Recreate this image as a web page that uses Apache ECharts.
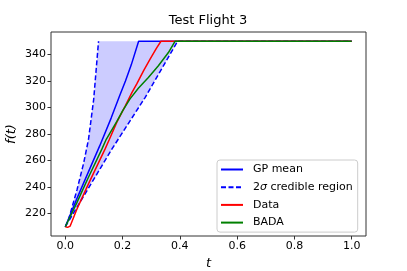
<!DOCTYPE html>
<html><head><meta charset="utf-8">
<script src="https://cdn.jsdelivr.net/npm/echarts@6/dist/echarts.min.js"></script>
<style>html,body{margin:0;padding:0;background:#fff}#c{width:407px;height:271px}</style>
</head><body><div id="c"></div>
<script>
// GP mean
const tGP = [0, 0.04, 0.08, 0.12, 0.16, 0.19, 0.21, 0.23, 0.256, 1.0];
const yGP = [210, 231, 251, 271, 292, 309, 320, 332, 350, 350];
// 2-sigma credible region: upper bound
const tUp = [0, 0.012, 0.041, 0.064, 0.081, 0.099, 0.116];
const yUp = [210, 216, 238, 258, 276, 306, 350];
// 2-sigma credible region: lower bound
const tLo = [0, 0.163, 0.279, 0.392, 1.0];
const yLo = [210, 268.75, 307.7, 350, 350];
// Data
const tData = [0, 0.008, 0.017, 0.04, 0.08, 0.139, 0.154, 0.18, 0.209, 0.232, 0.25, 0.273, 0.296, 0.319, 0.334, 1.0];
const yData = [210, 209.5, 210.5, 223, 242, 268.75, 276, 289, 301, 311, 318, 327.7, 336.5, 345, 350, 350];
// BADA
const tBada = [0, 0.04, 0.08, 0.128, 0.143, 0.18, 0.2, 0.226, 0.255, 0.29, 0.325, 0.36, 0.383, 1.0];
const yBada = [210, 228, 247, 268.75, 276, 289.5, 297.5, 306.5, 314.5, 322.7, 331.5, 341.5, 350, 350];
// Ticks
const xTicks = [0, 0.2, 0.4, 0.6, 0.8, 1.0];
const yTicks = [220, 240, 260, 280, 300, 320, 340];
const yCap = 350;

const pairs = (t, y) => t.map((v, i) => [v, y[i]]);
const FONT = 'DejaVu Sans';

const chart = echarts.init(document.getElementById('c'), null, {renderer: 'canvas'});

const bandPoly = () => {
  const up = pairs(tUp, yUp.map(v => Math.min(v, yCap)));
  const lo = pairs(tLo, yLo).filter(p => p[0] <= tLo[3]);
  return up.concat([[lo[lo.length - 1][0], yCap]]).concat(lo.slice().reverse());
};

chart.setOption({
  animation: false,
  title: {
    text: 'Test Flight 3', left: 208, textAlign: 'center', top: 14, padding: 0,
    textStyle: {fontFamily: FONT, fontSize: 13, fontWeight: 'normal', color: '#000'}
  },
  grid: {left: 51, right: 41, top: 32, bottom: 35, show: true, borderColor: '#333', borderWidth: 1,
    backgroundColor: 'transparent', containLabel: false, outerBoundsMode: 'none'},
  xAxis: {
    type: 'value', min: -0.05, max: 1.05,
    name: 't', nameLocation: 'middle', nameGap: 21, nameMoveOverlap: false,
    nameTextStyle: {fontFamily: FONT, fontSize: 13, fontStyle: 'italic', color: '#000'},
    axisLine: {show: false, onZero: false},
    splitLine: {show: false},
    axisTick: {show: true, length: 3.5, lineStyle: {color: '#333'}, customValues: xTicks},
    axisLabel: {fontFamily: FONT, fontSize: 11, color: '#000', margin: 5, customValues: xTicks,
      formatter: v => v.toFixed(1)}
  },
  yAxis: {
    type: 'value', min: 203, max: 357,
    name: 'f(t)', nameLocation: 'middle', nameGap: 33, nameMoveOverlap: false,
    nameTextStyle: {fontFamily: FONT, fontSize: 13, fontStyle: 'italic', color: '#000'},
    axisLine: {show: false, onZero: false},
    splitLine: {show: false},
    axisTick: {show: true, length: 3.5, lineStyle: {color: '#333'}, customValues: yTicks},
    axisLabel: {fontFamily: FONT, fontSize: 11, color: '#000', margin: 5, customValues: yTicks}
  },
  legend: {
    orient: 'vertical', left: 217, top: 160,
    data: ['GP mean', '2σ credible region', 'Data', 'BADA'],
    itemWidth: 22, itemHeight: 10, itemGap: 6.7,
    padding: [4, 5, 4, 3],
    itemStyle: {opacity: 0},
    backgroundColor: 'rgba(255,255,255,0.8)', borderColor: '#ccc', borderWidth: 1, borderRadius: 3,
    textStyle: {fontFamily: FONT, fontSize: 11, color: '#000', padding: [0, 0, 0, 5],
      rich: {i: {fontFamily: FONT, fontSize: 11, fontStyle: 'italic', color: '#000'}}},
    formatter: n => n === '2σ credible region' ? '2{i|σ} credible region' : n
  },
  series: [
    {
      type: 'custom', name: 'band', silent: true, z: 1,
      data: [[0, 210]],
      renderItem: (params, api) => {
        const pts = bandPoly().map(p => api.coord(p));
        return {type: 'polygon', shape: {points: pts}, style: {fill: 'rgba(0,0,255,0.2)', stroke: 'none'}};
      }
    },
    {type: 'line', name: 'GP mean', data: pairs(tGP, yGP), symbol: 'none', z: 2,
      lineStyle: {color: '#0000ff', width: 1.5}, itemStyle: {color: '#0000ff'}},
    {type: 'line', name: '2σ credible region', data: pairs(tUp, yUp), symbol: 'none', z: 2,
      lineStyle: {color: '#0000ff', width: 1.5, type: [5, 2.5]}, itemStyle: {color: '#0000ff'}},
    {type: 'line', name: '2σ credible region', data: pairs(tLo, yLo), symbol: 'none', z: 2,
      lineStyle: {color: '#0000ff', width: 1.5, type: [5, 2.5]}, itemStyle: {color: '#0000ff'}},
    {type: 'line', name: 'Data', data: pairs(tData, yData), symbol: 'none', z: 3,
      lineStyle: {color: '#ff0000', width: 1.5}, itemStyle: {color: '#ff0000'}},
    {type: 'line', name: 'BADA', data: pairs(tBada, yBada), symbol: 'none', z: 4,
      lineStyle: {color: '#008000', width: 1.5}, itemStyle: {color: '#008000'}}
  ]
});
</script></body></html>
